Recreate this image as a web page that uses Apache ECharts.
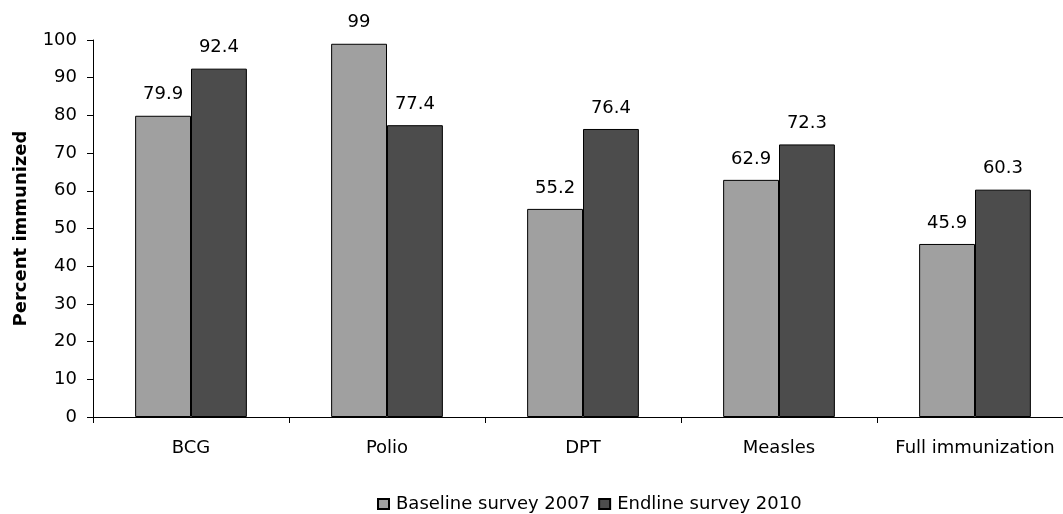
<!DOCTYPE html>
<html><head><meta charset="utf-8">
<script src="https://cdn.jsdelivr.net/npm/echarts@6/dist/echarts.min.js"></script>
<style>html,body{margin:0;padding:0;background:#fff;overflow:hidden;width:1063px;height:514px}#c{width:1085px;height:514px}</style>
</head><body><div id="c"></div>
<script>
const categories = ['BCG', 'Polio', 'DPT', 'Measles', 'Full immunization'];
const baseline2007 = [79.9, 99, 55.2, 62.9, 45.9];
const endline2010 = [92.4, 77.4, 76.4, 72.3, 60.3];
const seriesNames = ['Baseline survey 2007', 'Endline survey 2010'];
const yTicks = [0, 10, 20, 30, 40, 50, 60, 70, 80, 90, 100];

const font = 'DejaVu Sans, Verdana, sans-serif';
const fs = 18;
const chart = echarts.init(document.getElementById('c'));
const labelCfg = {show: true, position: 'top', distance: 12, color: '#000', fontFamily: font, fontSize: fs};
chart.setOption({
  animation: false,
  grid: {left: 93, top: 40, width: 980, height: 377},
  legend: {
    top: 490, left: 372, itemWidth: 11, itemHeight: 10, itemGap: 8,
    textStyle: {fontFamily: font, fontSize: fs, color: '#000', padding: [0, 0, 0, 2]},
    data: seriesNames.map(n => ({name: n, icon: 'rect'}))
  },
  xAxis: {
    type: 'category', data: categories,
    axisLine: {lineStyle: {color: '#000', width: 1}},
    axisTick: {show: true, interval: 0, alignWithLabel: false, length: 6, lineStyle: {color: '#000'}},
    axisLabel: {interval: 0, color: '#000', fontFamily: font, fontSize: fs, margin: 22}
  },
  yAxis: {
    type: 'value', min: yTicks[0], max: yTicks[yTicks.length - 1], interval: 10,
    name: 'Percent immunized', nameLocation: 'middle', nameGap: 63,
    nameTextStyle: {fontFamily: font, fontSize: 18, fontWeight: 'bold', color: '#000'},
    axisLine: {show: true, lineStyle: {color: '#000', width: 1}},
    axisTick: {show: true, length: 6, lineStyle: {color: '#000'}},
    splitLine: {show: false},
    axisLabel: {color: '#000', fontFamily: font, fontSize: fs, margin: 16}
  },
  series: [
    {name: seriesNames[0], type: 'bar', data: baseline2007, barGap: '0%', barCategoryGap: '43%',
     itemStyle: {color: '#a0a0a0', borderColor: '#000', borderWidth: 1}, label: labelCfg},
    {name: seriesNames[1], type: 'bar', data: endline2010, barGap: '0%', barCategoryGap: '43%',
     itemStyle: {color: '#4c4c4c', borderColor: '#000', borderWidth: 1}, label: labelCfg}
  ]
});
</script></body></html>
